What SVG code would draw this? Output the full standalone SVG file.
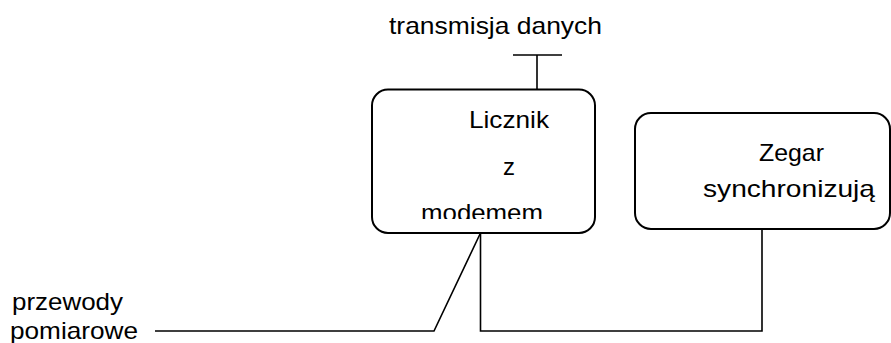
<svg xmlns="http://www.w3.org/2000/svg" width="891" height="343" viewBox="0 0 891 343">
<style>
.box{fill:#fff;stroke:#000;stroke-width:2}
.ln{fill:none;stroke:#000;stroke-width:1.6}
text{font-family:"Liberation Sans",Arial,sans-serif;font-size:24px;fill:#000}
</style>
<defs><clipPath id="c1"><rect x="372" y="90" width="222" height="129"/></clipPath></defs>
<rect width="891" height="343" fill="#fff"/>
<g id="connectors">
<path class="ln" d="M513,55 H562 M537,55 V89"/>
<path class="ln" d="M480.5,233 V331 H762 V229"/>
<path class="ln" d="M480.5,233 L434,331 H155"/>
</g>
<g id="label-transmisja"><text x="389" y="34" textLength="213" lengthAdjust="spacingAndGlyphs">transmisja danych</text></g>
<g id="licznik">
<rect class="box" x="372" y="89.5" width="223" height="143.5" rx="16"/>
<g clip-path="url(#c1)">
<text x="469" y="128" textLength="80" lengthAdjust="spacingAndGlyphs">Licznik</text>
<text x="503" y="175">z</text>
<text x="421" y="221" textLength="122" lengthAdjust="spacingAndGlyphs">modemem</text>
</g>
</g>
<g id="zegar">
<rect class="box" x="635" y="113" width="255" height="116" rx="16"/>
<text x="759" y="161" textLength="65" lengthAdjust="spacingAndGlyphs">Zegar</text>
<text x="703" y="197" textLength="172" lengthAdjust="spacingAndGlyphs">synchronizują</text>
</g>
<g id="label-przewody">
<text x="12" y="310" textLength="111" lengthAdjust="spacingAndGlyphs">przewody</text>
<text x="10" y="339" textLength="128" lengthAdjust="spacingAndGlyphs">pomiarowe</text>
</g>
</svg>
